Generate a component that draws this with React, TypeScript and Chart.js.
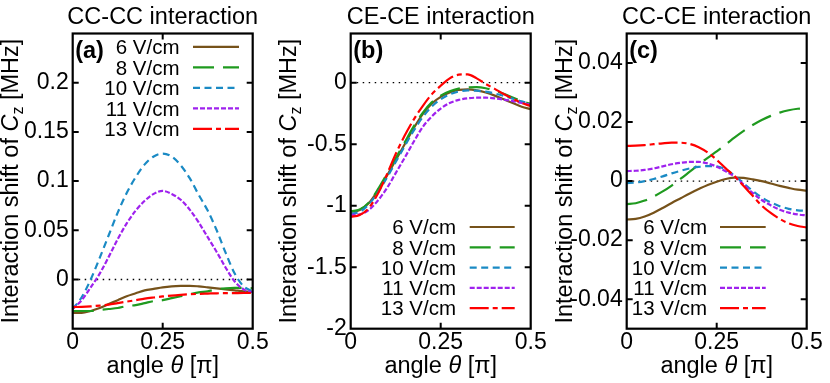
import React, { useEffect, useRef } from "react";
import { Chart, registerables } from "chart.js";

Chart.register(...registerables);

// ---------------- DATA ----------------
const theta = [0, 0.025, 0.05, 0.075, 0.1, 0.125, 0.15, 0.175, 0.2, 0.225, 0.25, 0.275, 0.3, 0.325, 0.35, 0.375, 0.4, 0.425, 0.45, 0.475, 0.5];
const seriesLabels = ["6 V/cm", "8 V/cm", "10 V/cm", "11 V/cm", "13 V/cm"];
const xTicks = [0, 0.25, 0.5];

// (a) CC-CC interaction
const ccccV6 = [-0.034, -0.034, -0.032, -0.029, -0.025, -0.021, -0.017, -0.014, -0.011, -0.0095, -0.008, -0.007, -0.0065, -0.0064, -0.007, -0.008, -0.009, -0.01, -0.011, -0.012, -0.0125];
const ccccV8 = [-0.032, -0.032, -0.032, -0.031, -0.03, -0.029, -0.027, -0.026, -0.024, -0.022, -0.021, -0.019, -0.017, -0.015, -0.013, -0.012, -0.01, -0.009, -0.0085, -0.0085, -0.009];
const ccccV10 = [-0.03, -0.018, 0.0, 0.022, 0.045, 0.068, 0.088, 0.104, 0.117, 0.125, 0.128, 0.125, 0.116, 0.103, 0.086, 0.07, 0.05, 0.027, 0.006, -0.007, -0.012];
const ccccV11 = [-0.03, -0.021, -0.008, 0.006, 0.023, 0.041, 0.057, 0.07, 0.08, 0.087, 0.09, 0.087, 0.081, 0.071, 0.058, 0.043, 0.028, 0.012, -0.002, -0.01, -0.013];
const ccccV13 = [-0.028, -0.0278, -0.0273, -0.0265, -0.0255, -0.024, -0.0225, -0.021, -0.0195, -0.0183, -0.0172, -0.0163, -0.0156, -0.015, -0.0146, -0.0143, -0.014, -0.0139, -0.0138, -0.0137, -0.0137];
const yTicksA = [0, 0.05, 0.1, 0.15, 0.2];

// (b) CE-CE interaction
const ceceV6 = [-1.05, -1.035, -0.98, -0.88, -0.76, -0.63, -0.5, -0.37, -0.255, -0.17, -0.115, -0.08, -0.058, -0.055, -0.062, -0.08, -0.105, -0.135, -0.165, -0.195, -0.215];
const ceceV8 = [-1.045, -1.03, -0.975, -0.87, -0.745, -0.615, -0.485, -0.355, -0.245, -0.16, -0.105, -0.07, -0.048, -0.038, -0.036, -0.045, -0.065, -0.09, -0.12, -0.15, -0.172];
const ceceV10 = [-1.065, -1.05, -0.99, -0.895, -0.775, -0.645, -0.515, -0.39, -0.28, -0.195, -0.135, -0.095, -0.072, -0.063, -0.065, -0.073, -0.088, -0.107, -0.13, -0.152, -0.17];
const ceceV11 = [-1.075, -1.07, -1.035, -0.96, -0.86, -0.735, -0.61, -0.48, -0.36, -0.275, -0.21, -0.165, -0.14, -0.127, -0.122, -0.122, -0.127, -0.137, -0.15, -0.165, -0.178];
const ceceV13 = [-1.09, -1.075, -1.02, -0.905, -0.75, -0.58, -0.43, -0.3, -0.19, -0.095, -0.025, 0.035, 0.065, 0.068, 0.035, -0.01, -0.05, -0.092, -0.13, -0.165, -0.19];
const yTicksB = [-2, -1.5, -1, -0.5, 0];

// (c) CC-CE interaction
const ccceV6 = [-0.013, -0.0128, -0.012, -0.0107, -0.0091, -0.0074, -0.0058, -0.0042, -0.0027, -0.0013, -0.0002, 0.0007, 0.0012, 0.0011, 0.0006, 0.0, -0.0008, -0.0016, -0.0023, -0.0029, -0.0032];
const ccceV8 = [-0.0078, -0.0075, -0.0066, -0.0052, -0.0035, -0.0015, 0.0008, 0.0032, 0.0056, 0.0079, 0.0101, 0.0124, 0.0148, 0.017, 0.019, 0.0207, 0.0221, 0.0232, 0.024, 0.0245, 0.0247];
const ccceV10 = [-0.0007, -0.0005, 0.0, 0.0007, 0.0016, 0.0026, 0.0035, 0.0043, 0.0048, 0.0051, 0.005, 0.0039, 0.0018, -0.0008, -0.0033, -0.0055, -0.0072, -0.0085, -0.0094, -0.0099, -0.0101];
const ccceV11 = [0.0034, 0.0035, 0.0038, 0.0043, 0.005, 0.0057, 0.0062, 0.0065, 0.0065, 0.006, 0.0049, 0.0033, 0.0015, -0.0012, -0.004, -0.0064, -0.0082, -0.0097, -0.0107, -0.0113, -0.0116];
const ccceV13 = [0.0119, 0.012, 0.0122, 0.0125, 0.0128, 0.013, 0.013, 0.0126, 0.0115, 0.0097, 0.0072, 0.0043, 0.0016, -0.0017, -0.005, -0.0083, -0.0108, -0.0128, -0.0143, -0.0152, -0.0157];
const yTicksC = [-0.04, -0.02, 0, 0.02, 0.04];

// ---------------- STYLE / LAYOUT ----------------
const FONT = "'Liberation Sans', Arial, Helvetica, sans-serif";
const H = 383;
const PLOT_TOP = 33.5;
const PLOT_BOTTOM = 328.7;
const TICK_LEN = 6;
const TITLE_SIZE = 23.5;
const TICK_SIZE = 23;
const LEGEND_SIZE = 20.5;

const STYLES = [
  { color: "#76521a", dash: [] as number[] },
  { color: "#1f9a1f", dash: [21, 9] },
  { color: "#1a8ac4", dash: [7, 4.5] },
  { color: "#9f22ee", dash: [5, 2] },
  { color: "#ff0000", dash: [19, 4, 5, 4] },
];

type PanelCfg = {
  left: number;
  width: number;
  plotLeft: number;
  plotRight: number;
  title: string;
  letter: string;
  yMin: number;
  yMax: number;
  yTicks: number[];
  series: number[][];
  legend: { y0: number; step: number; textRight: number; x0: number; x1: number };
};

const PANELS: PanelCfg[] = [
  {
    left: 0, width: 277, plotLeft: 72.7, plotRight: 252.7,
    title: "CC-CC interaction", letter: "(a)",
    yMin: -0.05, yMax: 0.25, yTicks: yTicksA,
    series: [ccccV6, ccccV8, ccccV10, ccccV11, ccccV13],
    legend: { y0: 46.9, step: 20.5, textRight: 179.5, x0: 193, x1: 239 },
  },
  {
    left: 277, width: 278, plotLeft: 350.7, plotRight: 530.7,
    title: "CE-CE interaction", letter: "(b)",
    yMin: -2, yMax: 0.4, yTicks: yTicksB,
    series: [ceceV6, ceceV8, ceceV10, ceceV11, ceceV13],
    legend: { y0: 227, step: 20.3, textRight: 456, x0: 469.7, x1: 514.7 },
  },
  {
    left: 555, width: 275, plotLeft: 626.7, plotRight: 806.7,
    title: "CC-CE interaction", letter: "(c)",
    yMin: -0.05, yMax: 0.05, yTicks: yTicksC,
    series: [ccceV6, ccceV8, ccceV10, ccceV11, ccceV13],
    legend: { y0: 227, step: 20.3, textRight: 707, x0: 720, x1: 765.7 },
  },
];

function drawParts(ctx: CanvasRenderingContext2D, parts: { t: string; f: string; dy?: number }[], cx: number, by: number) {
  let total = 0;
  for (const p of parts) {
    ctx.font = p.f;
    total += ctx.measureText(p.t).width;
  }
  let x = cx - total / 2;
  ctx.textAlign = "left";
  ctx.textBaseline = "alphabetic";
  for (const p of parts) {
    ctx.font = p.f;
    ctx.fillText(p.t, x, by + (p.dy || 0));
    x += ctx.measureText(p.t).width;
  }
}

function makeDecor(p: PanelCfg) {
  return {
    id: "decor",
    beforeDatasetsDraw(chart: any) {
      const { ctx, chartArea: a, scales } = chart;
      const y0 = scales.y.getPixelForValue(0);
      ctx.save();
      ctx.strokeStyle = "#000";
      ctx.lineWidth = 1.3;
      ctx.setLineDash([1.5, 4.5]);
      ctx.beginPath();
      ctx.moveTo(a.left, y0);
      ctx.lineTo(a.right, y0);
      ctx.stroke();
      ctx.restore();
    },
    afterDatasetsDraw(chart: any) {
      const { ctx, chartArea: a, scales } = chart;
      const off = p.left;
      ctx.save();
      ctx.strokeStyle = "#000";
      ctx.lineWidth = 2;
      ctx.setLineDash([]);
      // inward ticks
      ctx.beginPath();
      for (const v of p.yTicks) {
        const py = scales.y.getPixelForValue(v);
        if (py > a.top + 1 && py < a.bottom - 1) {
          ctx.moveTo(a.left, py); ctx.lineTo(a.left + TICK_LEN, py);
          ctx.moveTo(a.right, py); ctx.lineTo(a.right - TICK_LEN, py);
        }
      }
      for (const v of xTicks) {
        const px = scales.x.getPixelForValue(v);
        if (px > a.left + 1 && px < a.right - 1) {
          ctx.moveTo(px, a.bottom); ctx.lineTo(px, a.bottom - TICK_LEN);
          ctx.moveTo(px, a.top); ctx.lineTo(px, a.top + TICK_LEN);
        }
      }
      ctx.stroke();
      ctx.lineWidth = 2.2;
      ctx.strokeRect(a.left, a.top, a.right - a.left, a.bottom - a.top);

      ctx.fillStyle = "#000";
      // title
      ctx.font = `${TITLE_SIZE}px ${FONT}`;
      ctx.textAlign = "center";
      ctx.textBaseline = "alphabetic";
      ctx.fillText(p.title, (a.left + a.right) / 2, 23.5);
      // panel letter
      ctx.font = `bold ${TITLE_SIZE}px ${FONT}`;
      ctx.textAlign = "left";
      ctx.fillText(p.letter, a.left + 2.5, 57.5);

      // legend
      const L = p.legend;
      chart.data.datasets.forEach((ds: any, i: number) => {
        const ry = L.y0 + L.step * i;
        ctx.font = `${LEGEND_SIZE}px ${FONT}`;
        ctx.textAlign = "right";
        ctx.textBaseline = "alphabetic";
        ctx.fillStyle = "#000";
        ctx.fillText(ds.label, L.textRight - off, ry + 7.2);
        ctx.strokeStyle = ds.borderColor;
        ctx.lineWidth = 2.2;
        ctx.setLineDash(ds.borderDash || []);
        ctx.beginPath();
        ctx.moveTo(L.x0 - off, ry);
        ctx.lineTo(L.x1 - off, ry);
        ctx.stroke();
      });
      ctx.setLineDash([]);
      ctx.fillStyle = "#000";

      // x axis title
      drawParts(
        ctx,
        [
          { t: "angle ", f: `${TITLE_SIZE}px ${FONT}` },
          { t: "θ", f: `italic ${TITLE_SIZE}px ${FONT}` },
          { t: " [π]", f: `${TITLE_SIZE}px ${FONT}` },
        ],
        (a.left + a.right) / 2,
        373
      );

      // y axis title (rotated)
      ctx.save();
      ctx.translate(a.left - 54.5, (a.top + a.bottom) / 2);
      ctx.rotate(-Math.PI / 2);
      drawParts(
        ctx,
        [
          { t: "Interaction shift of ", f: `${TITLE_SIZE}px ${FONT}` },
          { t: "C", f: `italic ${TITLE_SIZE}px ${FONT}` },
          { t: "z", f: `16px ${FONT}`, dy: 5 },
          { t: " [MHz]", f: `${TITLE_SIZE}px ${FONT}` },
        ],
        0,
        0
      );
      ctx.restore();
      ctx.restore();
    },
  };
}

function Panel({ p }: { p: PanelCfg }) {
  const ref = useRef<HTMLCanvasElement>(null);
  useEffect(() => {
    const canvas = ref.current!;
    const chart = new Chart(canvas, {
      type: "line",
      data: {
        datasets: p.series.map((vals, i) => ({
          label: seriesLabels[i],
          data: theta.map((t, j) => ({ x: t, y: vals[j] })),
          borderColor: STYLES[i].color,
          borderDash: STYLES[i].dash,
          borderWidth: 2.2,
          pointRadius: 0,
          fill: false,
          cubicInterpolationMode: "monotone",
          order: 4 - i,
        })),
      },
      options: {
        animation: false,
        responsive: false,
        maintainAspectRatio: false,
        events: [],
        layout: { padding: { left: 0, top: PLOT_TOP, right: p.left + p.width - p.plotRight, bottom: 0 } },
        plugins: { legend: { display: false }, tooltip: { enabled: false }, title: { display: false } },
        scales: {
          x: {
            type: "linear",
            min: 0,
            max: 0.5,
            afterBuildTicks: (s: any) => { s.ticks = xTicks.map((v) => ({ value: v })); },
            afterFit: (s: any) => { s.height = H - PLOT_BOTTOM; },
            grid: { display: false, drawTicks: false },
            border: { display: false },
            ticks: {
              autoSkip: false,
              maxRotation: 0,
              padding: 0,
              color: "#000",
              font: { family: FONT, size: TICK_SIZE },
              callback: (v: any) => String(v),
            },
          },
          y: {
            type: "linear",
            min: p.yMin,
            max: p.yMax,
            afterBuildTicks: (s: any) => { s.ticks = p.yTicks.map((v) => ({ value: v })); },
            afterFit: (s: any) => { s.width = p.plotLeft - p.left; },
            grid: { display: false, drawTicks: false },
            border: { display: false },
            ticks: {
              autoSkip: false,
              padding: 4,
              color: "#000",
              font: { family: FONT, size: TICK_SIZE },
              callback: (v: any) => String(v),
            },
          },
        },
      } as any,
      plugins: [makeDecor(p)],
    });
    return () => chart.destroy();
  }, [p]);
  return (
    <canvas
      ref={ref}
      width={p.width}
      height={H}
      style={{ position: "absolute", left: p.left, top: 0, width: p.width, height: H, display: "block" }}
    />
  );
}

export default function App() {
  return (
    <div style={{ position: "fixed", left: 0, top: 0, width: 830, height: H, background: "#fff", overflow: "hidden" }}>
      {PANELS.map((p, i) => (
        <Panel key={i} p={p} />
      ))}
    </div>
  );
}
